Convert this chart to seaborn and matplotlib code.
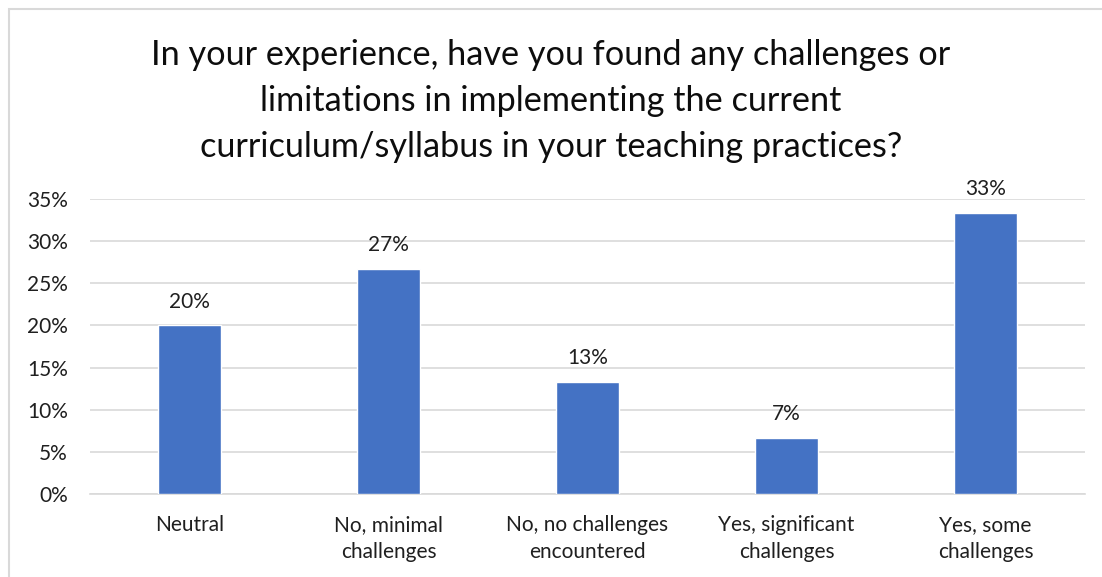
import matplotlib
matplotlib.use("Agg")
import matplotlib.pyplot as plt
from matplotlib.patches import Rectangle
from matplotlib.ticker import PercentFormatter
import seaborn as sns
import pandas as pd

title = ("In your experience, have you found any challenges or\n"
         "limitations in implementing the current\n"
         "curriculum/syllabus in your teaching practices?")
categories = ["Neutral", "No, minimal\nchallenges", "No, no challenges\nencountered",
              "Yes, significant\nchallenges", "Yes, some\nchallenges"]
shares = [0.2000, 0.2667, 0.1333, 0.0667, 0.3333]
y_ticks = [0.00, 0.05, 0.10, 0.15, 0.20, 0.25, 0.30, 0.35]

sns.set_theme(style="white")
plt.rcParams["font.family"] = ["Lato", "DejaVu Sans"]

df = pd.DataFrame({"category": categories, "share": shares})

fig = plt.figure(figsize=(11.02, 5.77), dpi=100)
fig.patch.set_facecolor("white")
# light frame around the chart area
fig.add_artist(Rectangle((9 / 1102, -0.05), 1.2, 1 - 9 / 577 + 0.05,
                         transform=fig.transFigure, fill=False,
                         edgecolor="#d9d9d9", linewidth=1.5))

ax = fig.add_axes([90 / 1102, 1 - 494 / 577, (1085 - 90) / 1102, (494 - 199) / 577])
sns.barplot(data=df, x="category", y="share", color="#4472C4", saturation=1,
            width=0.32, ax=ax, zorder=3)

ax.set_ylim(0, 0.35)
ax.set_xlim(-0.5, len(categories) - 0.5)
ax.set_yticks(y_ticks)
ax.yaxis.set_major_formatter(PercentFormatter(1.0, decimals=0))
ax.grid(axis="y", color="#d9d9d9", linewidth=1.2, zorder=0)
ax.set_axisbelow(True)
for s in ["left", "right", "top"]:
    ax.spines[s].set_visible(False)
ax.spines["bottom"].set_color("#d9d9d9")
ax.spines["bottom"].set_linewidth(1.2)
ax.set_xlabel("")
ax.set_ylabel("")
ax.tick_params(axis="y", length=0, pad=16, labelsize=15, labelcolor="#1f1f1f")
ax.tick_params(axis="x", length=0, pad=15, labelsize=15, labelcolor="#1f1f1f")
for lbl in ax.get_xticklabels():
    lbl.set_linespacing(1.45)

for cont in ax.containers:
    ax.bar_label(cont, labels=[f"{v * 100:.0f}%" for v in cont.datavalues],
                 padding=10, fontsize=15, color="#1f1f1f")

fig.text(0.5, 1 - 101 / 577, title, ha="center", va="center", fontsize=24.7,
         color="#0d0d0d", linespacing=1.52)

fig.savefig("out.png", dpi=100, facecolor="white")
